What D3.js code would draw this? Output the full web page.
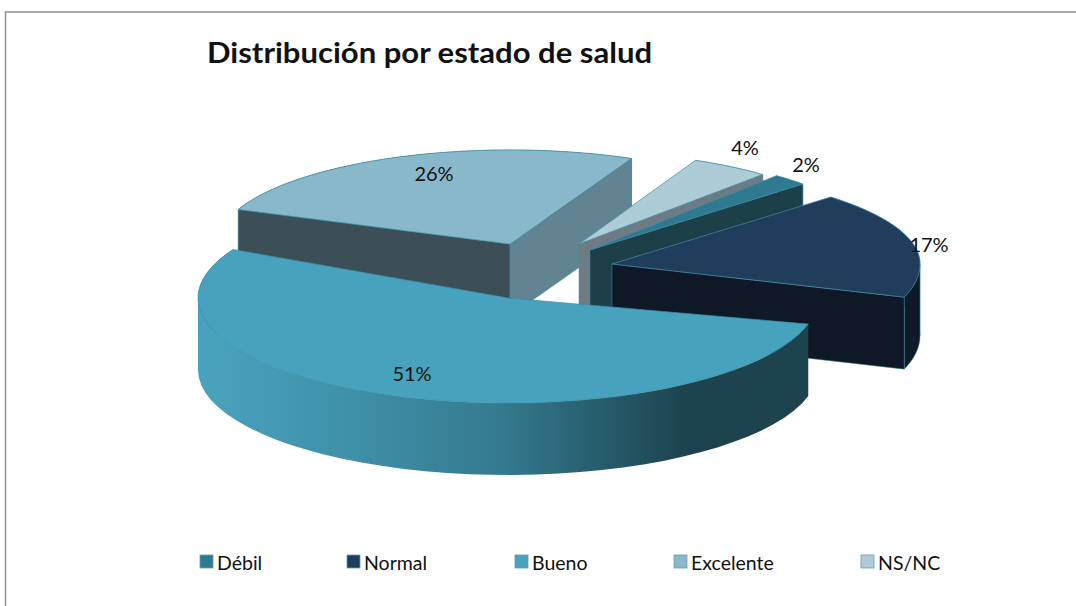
<!DOCTYPE html>
<html><head><meta charset="utf-8">
<script src="https://cdnjs.cloudflare.com/ajax/libs/d3/7.8.5/d3.min.js"></script>
<style>html,body{margin:0;padding:0;background:#fff}svg{display:block}text{font-family:Lato,"Open Sans",sans-serif;fill:#111}</style>
</head><body><svg id="c" width="1076" height="606"></svg>
<script>
// Data
const categories = ["Débil","Normal","Bueno","Excelente","NS/NC"];
const values = [2,17,51,26,4];
const title = "Distribución por estado de salud";
// Colours (null: wall is never visible)
const topColors = ["#2f7a90","#213d5c","#46a2bd","#8ab8cb","#aecbd8"];
const wallStartColors = [null,null,null,"#3d4f56",null];
const wallEndColors = ["#1c3f4a","#0e1826",null,"#628391","#6e7b84"];
const rimColors = ["#1c3f4a","#0f1a29","url(#rim)","#3d4f56","#6e7b84"];
// Layout: exploded position and apparent radius of each slice (pixels)
const apexX = [590,612,508,510,579];
const apexY = [250,264,298,244,244];
const radiusX = [290,308,310,292,280];
const radiusBack = [97,95,105,94,92];
const radiusFront = [97,105,105,94,92];
const angleTrim = [[0,0],[-2,0],[-4,5.5],[-0.5,-1],[-1,1]];
const pieRotation = 40;
const depth = 72;
const drawOrder = [3,4,0,1,2];
const labelX = [806,929,412,434,745];
const labelY = [172,252,381,181,155];
const legendX = [200,347,515,674,861];

const svg = d3.select("#c");
const rad = d => d*Math.PI/180;
const pie = d3.pie().sort(null).startAngle(rad(pieRotation)).endAngle(rad(pieRotation+360));
const arcs = pie(values);

const defs = svg.append("defs");
const grad = defs.append("linearGradient").attr("id","rim").attr("gradientUnits","userSpaceOnUse")
  .attr("x1",198).attr("x2",808).attr("y1",0).attr("y2",0);
[[0,"#4aa3be"],[.25,"#3f90a9"],[.5,"#347a8f"],[.8,"#1c434e"],[1,"#1c434e"]].forEach(s=>grad.append("stop").attr("offset",s[0]).attr("stop-color",s[1]));

svg.append("path").attr("d","M1076 12H5.5V606").attr("fill","none").attr("stroke","#8c8c8c").attr("stroke-width",1.4);

function sliceScales(i){
  return {
    x: d3.scaleLinear().domain([-1,1]).range([apexX[i]-radiusX[i],apexX[i]+radiusX[i]]),
    y: d3.scaleLinear().domain([-1,0,1]).range([apexY[i]+radiusFront[i],apexY[i],apexY[i]-radiusBack[i]])
  };
}
const sect = arcs.map((a,i)=>{
  const s = sliceScales(i);
  const a0 = a.startAngle+rad(angleTrim[i][0]), a1 = a.endAngle+rad(angleTrim[i][1]);
  const P = (t,dz=0)=>[s.x(Math.sin(t)), s.y(Math.cos(t))+dz];
  const ang = d3.range(0,61).map(k=>a0+(a1-a0)*k/60);
  return {i,a0,a1,P,ang,ax:s.x(0),ay:s.y(0)};
});
const line = d3.line();
const g = svg.append("g");
const edge = "#3f8ea6";
drawOrder.forEach(i=>{
  const o = sect[i];
  // the side band is cut where it turns at the ellipse's left and right extremes
  const cuts = [rad(90),rad(270),rad(450)].filter(c=>c>o.a0&&c<o.a1);
  const bounds = [o.a0,...cuts,o.a1];
  d3.pairs(bounds).forEach(([b0,b1])=>{
    const seg = d3.range(0,41).map(k=>b0+(b1-b0)*k/40);
    const rim = seg.map(t=>o.P(t)).concat(seg.slice().reverse().map(t=>o.P(t,depth)));
    g.append("path").attr("d",line(rim)+"Z").attr("fill",rimColors[i]).attr("stroke",i===2?"none":edge).attr("stroke-width",.5);
  });
  const wall=(t,c)=>{
    if(!c) return;
    const p=o.P(t),q=o.P(t,depth);
    g.append("path").attr("d",line([[o.ax,o.ay],p,q,[o.ax,o.ay+depth]])+"Z").attr("fill",c).attr("stroke",edge).attr("stroke-width",.5);
  };
  wall(o.a0,wallStartColors[i]);
  wall(o.a1,wallEndColors[i]);
  const top=[[o.ax,o.ay]].concat(o.ang.map(t=>o.P(t)));
  g.append("path").attr("d",line(top)+"Z").attr("fill",topColors[i]).attr("stroke",i===2?"#3d8fa8":edge).attr("stroke-width",.7);
});
// Labels
values.forEach((v,i)=>{
  svg.append("text").attr("x",labelX[i]).attr("y",labelY[i]).attr("text-anchor","middle").attr("font-size",20).text(d3.format(".0f")(v)+"%");
});
// Title
svg.append("text").attr("x",207).attr("y",63).attr("font-size",29).attr("font-weight",700)
  .attr("textLength",445).attr("lengthAdjust","spacingAndGlyphs").text(title);
// Legend
categories.forEach((c,i)=>{
  svg.append("rect").attr("x",legendX[i]).attr("y",555).attr("width",13).attr("height",13).attr("fill",topColors[i]).attr("stroke","#5f9fb3").attr("stroke-width",.8);
  svg.append("text").attr("x",legendX[i]+17).attr("y",570).attr("font-size",19.5).text(c);
});
</script></body></html>
